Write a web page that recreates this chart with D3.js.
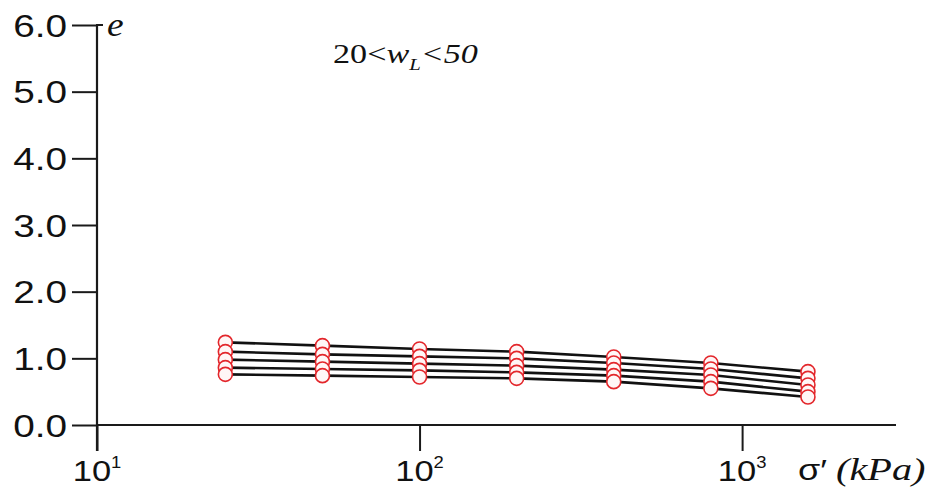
<!DOCTYPE html>
<html>
<head>
<meta charset="utf-8">
<script src="https://cdn.jsdelivr.net/npm/d3@7/dist/d3.min.js"></script>
<style>
  html, body { margin: 0; padding: 0; background: #fff; }
  svg { display: block; }
</style>
</head>
<body>
<svg id="chart" width="935" height="502"></svg>
<script>
// Effective stress steps (kPa) of the oedometer tests
const stress = [25, 50, 100, 200, 400, 800, 1600];

// Void ratio e of each specimen at every load step
const specimenA = [1.24, 1.19, 1.14, 1.10, 1.02, 0.93, 0.80];
const specimenB = [1.10, 1.06, 1.03, 1.00, 0.93, 0.84, 0.70];
const specimenC = [0.98, 0.95, 0.92, 0.89, 0.83, 0.75, 0.60];
const specimenD = [0.86, 0.84, 0.82, 0.79, 0.74, 0.65, 0.50];
const specimenE = [0.76, 0.74, 0.72, 0.70, 0.65, 0.55, 0.42];
const specimens = [specimenA, specimenB, specimenC, specimenD, specimenE];

// Axis ticks
const xMajor = [10, 100, 1000];
const xMajorExp = ["1", "2", "3"];
const xMinor = [20, 30, 40, 50, 60, 70, 80, 90, 200, 300, 400, 500, 600, 700, 800, 900, 2000, 3000];
const yMajor = [0, 1, 2, 3, 4, 5, 6];
const yMajorLabels = ["0.0", "1.0", "2.0", "3.0", "4.0", "5.0", "6.0"];
const yMinor = d3.range(0, 60).map(i => i / 10).filter(v => Math.abs(v - Math.round(v)) > 1e-6);

const svg = d3.select("#chart");

const x = d3.scaleLog().domain([10, 3000]).range([97, 896]);
const y = d3.scaleLinear().domain([0, 6]).range([425, 25]);

const axisColor = "#1a1a1a";
const SANS = "Liberation Sans, Arial, sans-serif";
const SERIF = "Liberation Serif, Times New Roman, serif";

// Text placed at (px, py) and widened horizontally
function wideText(parent, px, py, sx) {
  return parent.append("text")
    .attr("transform", `translate(${px},${py}) scale(${sx},1)`)
    .attr("fill", "#111");
}

// X axis: minor and major ticks
const gx = svg.append("g").attr("transform", `translate(0,${y(0)})`);
gx.call(d3.axisBottom(x).tickValues(xMinor).tickSize(15).tickFormat(""));
gx.call(d3.axisBottom(x).tickValues(xMajor).tickSize(26).tickFormat(""));
gx.selectAll(".domain").attr("stroke", axisColor).attr("stroke-width", 2.2)
  .attr("d", `M${x(10)},0H${x(3000)}`);
gx.selectAll(".tick line").attr("stroke", axisColor).attr("stroke-width", 2);

// X tick labels as powers of ten
xMajor.forEach((v, i) => {
  const t = wideText(svg, x(v), 481, 1.15)
    .attr("text-anchor", "middle")
    .attr("font-family", SANS)
    .attr("font-size", 30);
  t.append("tspan").text("10");
  t.append("tspan").attr("dy", -13).attr("font-size", 16).text(xMajorExp[i]);
});

// Y axis: minor and major ticks
const gy = svg.append("g").attr("transform", `translate(${x(10)},0)`);
gy.call(d3.axisLeft(y).tickValues(yMinor).tickSize(14).tickFormat(""));
gy.call(d3.axisLeft(y).tickValues(yMajor).tickSize(25).tickFormat((d, i) => yMajorLabels[i]));
gy.selectAll(".domain").attr("stroke", axisColor).attr("stroke-width", 2.2)
  .attr("d", `M0,${y(6)}V${y(0) + 26}`);
gy.selectAll(".tick line").attr("stroke", axisColor).attr("stroke-width", 2);
gy.selectAll(".tick text")
  .attr("font-family", SANS)
  .attr("font-size", 31)
  .attr("fill", "#111")
  .attr("x", 0)
  .attr("dy", "0.36em")
  .attr("text-anchor", "end")
  .attr("transform", "translate(-30,0) scale(1.25,1)");

// Small cap at the top of the y axis
svg.append("line")
  .attr("x1", x(10) - 1).attr("x2", x(10) + 6)
  .attr("y1", y(6)).attr("y2", y(6))
  .attr("stroke", axisColor).attr("stroke-width", 2);

// Axis titles
wideText(svg, 107, 36, 1.1)
  .attr("font-family", SERIF)
  .attr("font-style", "italic")
  .attr("font-size", 34)
  .text("e");

wideText(svg, 798, 480, 1.2)
  .attr("font-family", SANS)
  .attr("font-size", 30)
  .text("σ′");

wideText(svg, 836, 480, 1.3)
  .attr("font-family", SERIF)
  .attr("font-style", "italic")
  .attr("font-size", 31)
  .text("(kPa)");

// Liquid limit range note
const note = wideText(svg, 333, 63, 1.22)
  .attr("font-family", SERIF)
  .attr("font-size", 28);
note.append("tspan").text("20<");
note.append("tspan").attr("font-style", "italic").text("w");
note.append("tspan").attr("font-style", "italic").attr("font-size", 17).attr("dy", 7).text("L");
note.append("tspan").attr("dy", -7).attr("font-style", "italic").text("<50");

// Compression curves
const line = d3.line().x((d, i) => x(stress[i])).y(d => y(d));
svg.append("g")
  .selectAll("path")
  .data(specimens)
  .join("path")
  .attr("d", line)
  .attr("fill", "none")
  .attr("stroke", "#111")
  .attr("stroke-width", 2.6);

// Measured points
svg.append("g")
  .selectAll("g")
  .data(specimens)
  .join("g")
  .selectAll("circle")
  .data(d => d)
  .join("circle")
  .attr("cx", (d, i) => x(stress[i]))
  .attr("cy", d => y(d))
  .attr("r", 7)
  .attr("fill", "#fff6f6")
  .attr("stroke", "#e3262b")
  .attr("stroke-width", 1.6);
</script>
</body>
</html>
